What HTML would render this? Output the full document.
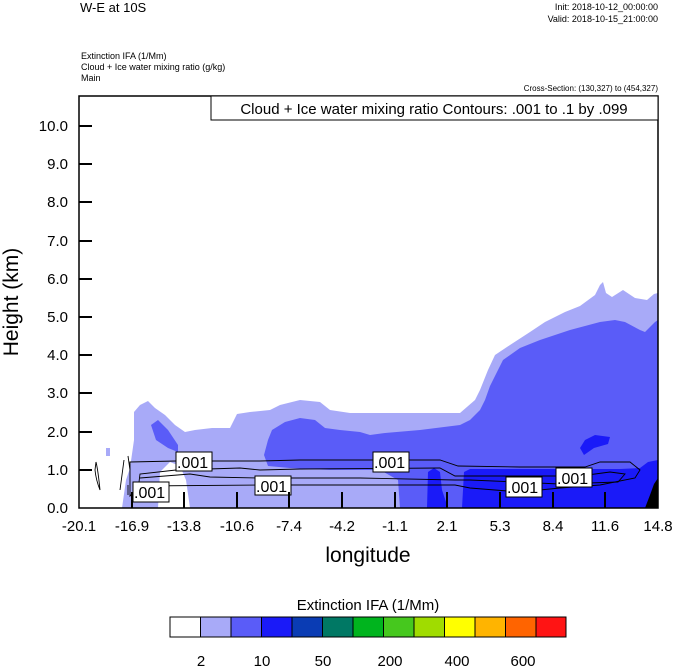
<!DOCTYPE html>
<html><head><meta charset="utf-8"><style>
body{margin:0;background:#fff;width:674px;height:667px;overflow:hidden;font-family:"Liberation Sans",Arial,sans-serif}
svg text{font-family:"Liberation Sans",Arial,sans-serif}
</style></head><body>
<svg width="674" height="667" viewBox="0 0 674 667" xmlns="http://www.w3.org/2000/svg">
<rect width="674" height="667" fill="#fff"/>
<text x="80" y="12" font-size="13">W-E at 10S</text>
<text x="658" y="10" font-size="9" text-anchor="end">Init: 2018-10-12_00:00:00</text>
<text x="658" y="22" font-size="9" text-anchor="end">Valid: 2018-10-15_21:00:00</text>
<text x="81" y="59" font-size="9">Extinction IFA   (1/Mm)</text>
<text x="81" y="70" font-size="9">Cloud + Ice water mixing ratio   (g/kg)</text>
<text x="81" y="81" font-size="9">Main</text>
<text x="658" y="91" font-size="8" text-anchor="end">Cross-Section: (130,327) to (454,327)</text>
<defs><clipPath id="c"><rect x="79" y="96" width="579" height="412"/></clipPath></defs>
<g clip-path="url(#c)">
<polygon fill="#a8aaf8" points="122,508 126,480 130,468 134,440 134,412 140,405 148,401 155,408 165,415 175,425 185,432 195,430 212,428 230,428 237,414 250,412 270,410 280,405 300,400 320,402 330,410 350,413 370,413 400,413 420,413 460,413 475,400 480,390 488,370 495,355 510,345 530,332 545,322 565,312 580,306 595,295 600,285 603,282 606,293 612,297 623,290 635,298 647,300 654,294 658,293 658,508"/>
<polygon fill="#a8aaf8" points="106,448 110,448 110,456 106,456"/>
<polygon fill="#fff" points="158,508 160,472 170,462 180,466 186,480 190,508"/>
<polygon fill="#5a5cf8" points="151,425 158,420 168,430 178,445 178,452 168,448 156,440"/>
<polygon fill="#5a5cf8" points="264,455 268,440 272,430 285,422 300,418 315,420 325,428 340,430 360,432 370,435 385,433 420,430 460,425 470,420 480,410 485,400 490,386 503,360 520,348 540,340 570,330 600,322 615,320 625,322 640,330 645,332 655,322 658,320 658,508 400,508 398,480 380,470 330,470 290,468 268,466"/>
<polygon fill="#1a1af8" points="427,508 428,472 434,468 440,472 442,490 448,508"/>
<polygon fill="#1a1af8" points="462,508 464,472 470,469 500,469 540,469 580,469 620,469 640,468 648,462 658,460 658,508"/>
<polygon fill="#1a1af8" points="580,448 585,440 595,435 610,437 608,444 594,448 584,455"/>
<polygon fill="#000" points="645,508 650,495 654,484 658,478 658,508"/>
</g>
<g fill="none" stroke="#000" stroke-width="0.9">
<path d="M130,496 L130,462 L176,461 L260,461 L300,460 L440,460 L458,466 L520,467 L585,467 L600,462 L630,462 L640,470 L635,478 L600,485 L560,488 L520,492 L470,488 L455,485 L360,485 L260,485 L140,486 Z"/>
<path d="M138,490 L140,474 L176,470 L240,468 L260,470 L300,469 L440,468 L455,476 L520,476 L580,476 L610,472 L625,474 L618,482 L560,484 L470,480 L455,480 L360,478 L260,478 L210,477 L190,474 L140,478"/>
<path d="M96,462 Q98,470 100,490 Q96,480 95,470 Z"/>
<path d="M124,460 L120,490 M128,456 L130,470 M128,485 L128,495"/>
</g>
<g font-size="16" fill="#000">
<rect x="176" y="452" width="36" height="19" fill="#fff" stroke="#000"/><text x="177" y="468">.001</text>
<rect x="133" y="482" width="36" height="20" fill="#fff" stroke="#000"/><text x="134" y="498">.001</text>
<rect x="255" y="476" width="36" height="19" fill="#fff" stroke="#000"/><text x="256" y="492">.001</text>
<rect x="373" y="452" width="36" height="20" fill="#fff" stroke="#000"/><text x="374" y="468">.001</text>
<rect x="506" y="477" width="36" height="20" fill="#fff" stroke="#000"/><text x="507" y="493">.001</text>
<rect x="556" y="468" width="36" height="19" fill="#fff" stroke="#000"/><text x="557" y="484">.001</text>
</g>
<rect x="79" y="96" width="579" height="412" fill="none" stroke="#000" stroke-width="1.5"/>
<rect x="211" y="96" width="447" height="24" fill="#fff" stroke="#000" stroke-width="1"/>
<text x="434" y="114" font-size="15" text-anchor="middle">Cloud + Ice water mixing ratio Contours: .001 to .1 by .099</text>
<g stroke="#000" stroke-width="2">
<line x1="79" y1="126" x2="92" y2="126"/><line x1="79" y1="164" x2="92" y2="164"/><line x1="79" y1="202" x2="92" y2="202"/><line x1="79" y1="241" x2="92" y2="241"/><line x1="79" y1="279" x2="92" y2="279"/><line x1="79" y1="317" x2="92" y2="317"/><line x1="79" y1="355" x2="92" y2="355"/><line x1="79" y1="393" x2="92" y2="393"/><line x1="79" y1="432" x2="92" y2="432"/><line x1="79" y1="470" x2="92" y2="470"/>
<line x1="132" y1="508" x2="132" y2="492"/><line x1="184" y1="508" x2="184" y2="492"/><line x1="237" y1="508" x2="237" y2="492"/><line x1="289" y1="508" x2="289" y2="492"/><line x1="342" y1="508" x2="342" y2="492"/><line x1="395" y1="508" x2="395" y2="492"/><line x1="447" y1="508" x2="447" y2="492"/><line x1="500" y1="508" x2="500" y2="492"/><line x1="553" y1="508" x2="553" y2="492"/><line x1="605" y1="508" x2="605" y2="492"/>
</g>
<g font-size="15" text-anchor="end">
<text x="68" y="131">10.0</text><text x="68" y="169">9.0</text><text x="68" y="207">8.0</text><text x="68" y="246">7.0</text><text x="68" y="284">6.0</text><text x="68" y="322">5.0</text><text x="68" y="360">4.0</text><text x="68" y="398">3.0</text><text x="68" y="437">2.0</text><text x="68" y="475">1.0</text><text x="68" y="513">0.0</text>
</g>
<g font-size="15" text-anchor="middle">
<text x="79" y="531">-20.1</text><text x="132" y="531">-16.9</text><text x="184" y="531">-13.8</text><text x="237" y="531">-10.6</text><text x="289" y="531">-7.4</text><text x="342" y="531">-4.2</text><text x="395" y="531">-1.1</text><text x="447" y="531">2.1</text><text x="500" y="531">5.3</text><text x="553" y="531">8.4</text><text x="605" y="531">11.6</text><text x="658" y="531">14.8</text>
</g>
<text x="368" y="562" font-size="21" text-anchor="middle">longitude</text>
<text transform="translate(18,302) rotate(-90)" font-size="21" text-anchor="middle">Height (km)</text>
<text x="368" y="610" font-size="15" text-anchor="middle">Extinction IFA  (1/Mm)</text>
<g stroke="#000" stroke-width="1">
<rect x="170" y="617" width="30.5" height="20" fill="#fff"/>
<rect x="200.5" y="617" width="30.5" height="20" fill="#a8aaf8"/>
<rect x="231" y="617" width="30.5" height="20" fill="#5a5cf8"/>
<rect x="261.5" y="617" width="30.5" height="20" fill="#1a1af8"/>
<rect x="292" y="617" width="30.5" height="20" fill="#0a3cb4"/>
<rect x="322.5" y="617" width="30.5" height="20" fill="#007864"/>
<rect x="353" y="617" width="30.5" height="20" fill="#00b41e"/>
<rect x="383.5" y="617" width="30.5" height="20" fill="#46c81e"/>
<rect x="414" y="617" width="30.5" height="20" fill="#a0dc00"/>
<rect x="444.5" y="617" width="30.5" height="20" fill="#ffff00"/>
<rect x="475" y="617" width="30.5" height="20" fill="#ffb400"/>
<rect x="505.5" y="617" width="30.5" height="20" fill="#ff6400"/>
<rect x="536" y="617" width="30" height="20" fill="#ff1414"/>
</g>
<g font-size="15" text-anchor="middle">
<text x="201" y="666">2</text><text x="262" y="666">10</text><text x="323" y="666">50</text><text x="390" y="666">200</text><text x="457" y="666">400</text><text x="523" y="666">600</text>
</g>
</svg>
</body></html>
